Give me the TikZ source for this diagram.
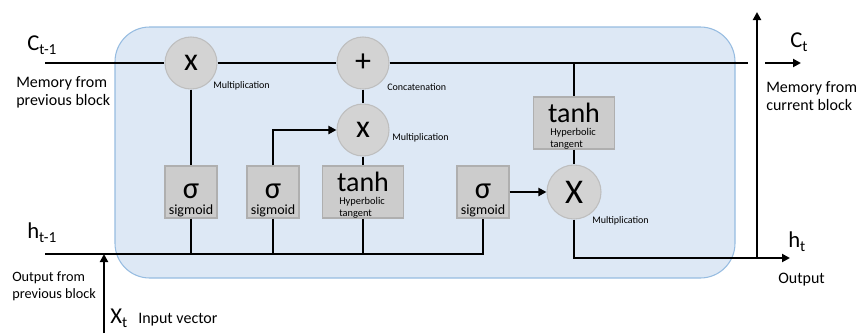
\documentclass[tikz,border=0pt]{standalone}
\usepackage{fontspec}
\setmainfont{Carlito}
\usetikzlibrary{arrows.meta,calc}
\definecolor{cellfill}{RGB}{221,232,245}
\definecolor{celldraw}{RGB}{150,188,225}
\definecolor{boxfill}{RGB}{204,204,204}
\definecolor{boxdraw}{RGB}{175,175,175}
\definecolor{circfill}{RGB}{211,211,211}
\definecolor{circdraw}{RGB}{190,190,190}
\newcommand\bigsub[2]{{\fontsize{17}{17}\selectfont #1\raisebox{-3pt}{\fontsize{11.5}{12}\selectfont #2}}}
\begin{document}
\begin{tikzpicture}[x=0.75pt,y=-0.75pt,
 cell/.style={fill=cellfill, draw=celldraw, line width=0.8pt, rounded corners=26pt},
 wire/.style={line width=2.2pt, black},
 arr/.style={wire,-{Triangle[length=6pt,width=6pt]}},
 gbox/.style={rectangle, fill=boxfill, draw=boxdraw, line width=0.8pt, minimum width=39pt, minimum height=39pt, inner sep=0pt},
 wbox/.style={gbox, minimum width=61pt},
 op/.style={circle, fill=circfill, draw=circdraw, line width=0.8pt, minimum size=39pt, inner sep=0pt, font=\fontsize{24}{24}\selectfont},
 small/.style={font=\fontsize{7.5}{8}\selectfont, anchor=base west, inner sep=0pt},
 lab/.style={font=\fontsize{12}{14}\selectfont, anchor=base west, inner sep=0pt},
 labs/.style={font=\fontsize{10.7}{12}\selectfont, anchor=base west, inner sep=0pt},
 sig/.style={font=\fontsize{23}{23}\selectfont, anchor=base, inner sep=0pt},
 sigt/.style={font=\fontsize{10.5}{11}\selectfont, anchor=base, inner sep=0pt},
 tanhs/.style={font=\fontsize{21}{21}\selectfont, anchor=base, inner sep=0pt},
 hyp/.style={font=\fontsize{7.8}{8}\selectfont, anchor=base west, inner sep=0pt},
 sym/.style={anchor=base west, inner sep=0pt}
]
\useasboundingbox (0,0) rectangle (858,333);
\draw[cell] (115,27) rectangle (735,278);

% operation circles
\node[op] (m1) at (191,63) {x};
\node[op] (add) at (363,63) {+};
\node[op] (m2) at (363,130) {x};
\node[op, minimum size=40.5pt, font=\fontsize{26}{26}\selectfont] (m3) at (574,192) {X};

% gate boxes
\node[gbox] (s1) at (191,192) {};
\node[gbox] (s2) at (273,192) {};
\node[wbox] (t1) at (363,192) {};
\node[gbox] (s3) at (483,192) {};
\node[wbox] (t2) at (574,123) {};

\node[sig] (s1a) at (191,198) {σ};
\node[sigt] (s1b) at (191,214) {sigmoid};
\node[sig] (s2a) at (273,198) {σ};
\node[sigt] (s2b) at (273,214) {sigmoid};
\node[sig] (s3a) at (483,198) {σ};
\node[sigt] (s3b) at (483,214) {sigmoid};
\node[tanhs] (t1a) at (363,191) {tanh};
\node[hyp] (t1b) at (339,204) {Hyperbolic};
\node[hyp] (t1c) at (339,216) {tangent};
\node[tanhs] (t2a) at (574,122) {tanh};
\node[hyp] (t2b) at (550,135) {Hyperbolic};
\node[hyp] (t2c) at (550,147) {tangent};

% small labels
\node[small] (l1) at (213,88) {Multiplication};
\node[small] (l2) at (387,90) {Concatenation};
\node[small] (l3) at (392,140) {Multiplication};
\node[small] (l4) at (592,223) {Multiplication};

% coordinates
\coordinate (cin) at (45,63);
\coordinate (cend) at (748,63);
\coordinate (hin) at (45,254);
\coordinate (xin) at (104,333);
\coordinate (hend) at (790,258);
\coordinate (vbot) at (757,258);
\coordinate (vtop) at (757,12);
\coordinate (co1) at (765,63);
\coordinate (co2) at (801,63);

% wires
\draw[wire] (cin) -- (m1);
\draw[wire] (m1) -- (add);
\draw[wire] (add) -- (cend);
\draw[wire] (m1) -- (s1);
\draw[wire] (add) -- (m2);
\draw[wire] (m2) -- (t1);
\draw[arr] (s2.north) |- (m2.west);
\draw[arr] (s3.east) -- (s3.east -| m3.west);
\draw[wire] (t2 |- cin) -- (t2.north);
\draw[wire] (t2.south) -- (m3.north);
\draw[arr] (m3.south) |- (hend);
\draw[arr] (vbot) -- (vtop);
\draw[arr] (co1) -- (co2);
\draw[wire] (hin) -| (s3.south);
\draw[wire] (s1.south) -- (s1.south |- hin);
\draw[wire] (s2.south) -- (s2.south |- hin);
\draw[wire] (t1.south) -- (t1.south |- hin);
\draw[arr] (xin) -- (xin |- hin);

% outer labels
\node[sym] (ctm1) at (27,50) {\bigsub{C}{t-1}};
\node[lab] (mem1) at (16,87) {Memory from};
\node[lab] (mem2) at (16,105) {previous block};
\node[sym] (htm1) at (27,238) {\bigsub{h}{t-1}};
\node[labs] (out1) at (12,281) {Output from};
\node[labs] (out2) at (12,298) {previous block};
\node[sym] (xt) at (110,323) {\bigsub{X}{t}};
\node[lab] (iv) at (138,323) {Input vector};
\node[sym] (ct) at (790,47) {\bigsub{C}{t}};
\node[lab] (mem3) at (766,92) {Memory from};
\node[lab] (mem4) at (766,110) {current block};
\node[sym] (ht) at (788,247) {\bigsub{h}{t}};
\node[lab] (outp) at (778,283) {Output};
\end{tikzpicture}
\end{document}
